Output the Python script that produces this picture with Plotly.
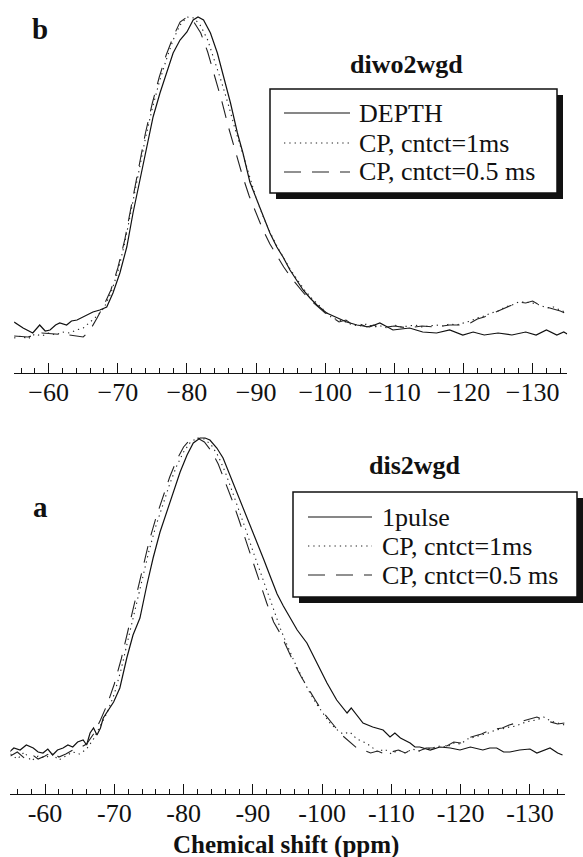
import plotly.graph_objects as go

W, H = 583, 857

# ---------------- data (intensity in arbitrary units) ----------------
# Panel b (diwo2wgd)
b_depth_ppm = [-55.0, -56.3, -57.7, -58.7, -59.5, -60.2, -61.0, -61.6, -62.6, -63.3, -64.1, -65.0, -65.5,
               -66.4, -67.4, -68.4, -69.3, -70.3, -71.3, -72.2, -73.2, -74.2, -75.1, -76.1, -77.1, -78.0,
               -79.0, -80.0, -80.9, -81.6, -82.4, -83.4, -84.4, -85.3, -86.3, -87.3, -88.1, -89.1, -90.1,
               -91.0, -92.0, -93.0, -93.9, -94.9, -95.9, -96.8, -97.8, -98.8, -100.2, -101.7, -103.1,
               -104.6, -106.4, -107.9, -109.8, -112.2, -114.1, -116.1, -118.0, -119.9, -121.4, -123.0,
               -125.0, -127.0, -129.0, -130.5, -132.0, -133.5, -134.5, -135.0]
b_depth_int = [51, 45, 40, 48, 42, 43, 48, 50, 48, 52, 53, 56, 58,
               61, 63, 66, 80, 100, 126, 160, 193, 226, 256, 280, 300, 320,
               333, 341, 353, 356, 353, 340, 320, 296, 270, 240, 220, 191, 173,
               156, 140, 126, 116, 103, 93, 83, 75, 68, 60, 55, 51,
               48, 46, 50, 43, 45, 41, 40, 43, 38, 41, 38,
               40, 38, 41, 38, 43, 38, 41, 39]

b_cp1_ppm = [-55, -56, -57, -58, -59, -60, -61, -62, -63, -64, -65, -66, -67, -68, -69, -70, -71, -72, -73,
             -74, -75, -76, -77, -78, -79, -80, -81, -82, -83, -84, -85, -86, -87, -88, -89, -90, -91, -92,
             -93, -94, -95, -96, -97, -98, -99, -100, -101, -102, -103, -104, -105, -106, -107, -108, -109,
             -110, -111, -112, -113, -114, -115, -116, -117, -118, -119, -120, -121, -122, -123, -124, -125,
             -126, -127, -128, -129, -130, -131, -132, -133, -134, -135]
b_cp1_int = [35, 37, 34, 39, 37, 40, 38, 41, 40, 43, 45, 51, 57, 65, 80, 101, 130, 165, 201,
             235, 265, 291, 313, 333, 348, 356, 355, 347, 333, 313, 291, 268, 243, 221, 197, 175, 157, 141,
             127, 115, 103, 93, 83, 75, 68, 61, 55, 53, 51, 48, 47, 49, 46, 47, 45,
             48, 46, 47, 48, 46, 47, 48, 47, 49, 48, 50, 52, 55, 57, 60, 62,
             66, 68, 71, 71, 70, 68, 65, 66, 63, 60]

b_cp05_ppm = [-55, -57, -59, -61, -63, -65, -66, -67, -68, -69, -70, -71, -72, -73, -74, -75, -76, -77,
              -78, -79, -80, -81, -82, -83, -84, -85, -86, -87, -88, -89, -90, -91, -92, -93, -94, -95,
              -96, -97, -98, -99, -100, -101, -102, -103, -104, -105, -106, -107, -108, -110, -112, -114,
              -116, -118, -120, -121, -122, -123, -124, -125, -126, -127, -128, -129, -130, -131, -132,
              -133, -134, -135]
b_cp05_int = [37, 36, 40, 39, 38, 36, 43, 55, 68, 83, 105, 133, 168, 205, 240, 270, 296, 318,
              336, 351, 356, 351, 340, 321, 298, 273, 246, 221, 198, 177, 159, 143, 129, 117, 106, 96,
              87, 79, 72, 66, 60, 56, 51, 53, 48, 49, 46, 48, 45, 47, 45, 47,
              46, 48, 48, 50, 54, 56, 59, 62, 65, 68, 71, 70, 72, 68, 66,
              64, 62, 59]

# Panel a (dis2wgd)
a_1p_ppm = [-54.7, -55.5, -56.4, -57.3, -58.3, -59.0, -59.7, -60.4, -61.1, -61.8, -62.6, -63.3, -64.0,
            -64.7, -65.5, -66.0, -66.5, -67.0, -67.5, -68.0, -68.4, -69.9, -70.8, -71.8, -72.7, -73.7,
            -74.7, -75.6, -76.6, -77.6, -78.5, -79.5, -80.5, -81.4, -82.4, -83.1, -83.8, -84.8, -85.7,
            -86.7, -87.7, -88.6, -89.6, -90.6, -91.6, -92.6, -93.5, -94.4, -95.4, -96.4, -97.8, -99.2,
            -100.7, -102.1, -103.6, -104.2, -105.0, -105.9, -107.3, -107.9, -108.8, -109.8, -110.5,
            -111.3, -112.7, -113.4, -114.1, -115.6, -117.0, -118.5, -119.9, -121.4, -123.2, -124.2,
            -125.2, -126.2, -127.1, -128.5, -130.0, -131.0, -132.9, -134.0, -134.7]
a_1p_int = [41, 46, 44, 49, 46, 42, 41, 45, 39, 44, 46, 49, 47,
            52, 54, 49, 61, 66, 59, 66, 76, 92, 106, 136, 159, 176,
            209, 236, 262, 282, 302, 322, 339, 351, 356, 356, 354, 346, 336,
            319, 302, 286, 269, 252, 234, 216, 200, 188, 176, 164, 151, 131,
            111, 94, 81, 86, 79, 71, 67, 66, 64, 57, 61,
            56, 51, 47, 47, 44, 47, 46, 44, 47, 44, 46,
            46, 42, 42, 44, 45, 41, 46, 41, 39]

a_cp1_ppm = list(range(-55, -136, -1))
a_cp1_int = [40, 35, 42, 33, 38, 36, 40, 34, 38, 42, 40, 45, 55, 68, 82, 100, 125, 155, 185,
             215, 243, 268, 290, 310, 328, 342, 352, 356, 355, 349, 338, 322, 303, 284, 264, 243, 223,
             203, 183, 165, 148, 132, 118, 104, 92, 82, 72, 65, 60, 62, 55, 52, 48, 42, 45, 40, 44, 41,
             45, 43, 46, 45, 48, 47, 51, 50, 55, 57, 59, 61, 64, 65, 67, 68, 71, 73, 74, 77, 73, 71, 69]

a_cp05_ppm = list(range(-55, -136, -1))
a_cp05_int = [38, 42, 36, 40, 35, 38, 42, 37, 40, 44, 46, 50, 60, 74, 90, 110, 135, 165, 195,
              225, 252, 276, 297, 317, 334, 347, 355, 356, 352, 343, 330, 313, 294, 274, 253, 232, 211,
              191, 172, 160, 145, 130, 117, 105, 94, 83, 74, 66, 58, 52, 46, 44, 41, 43, 40, 42, 44, 41,
              45, 43, 46, 46, 49, 48, 52, 51, 56, 58, 60, 63, 65, 66, 69, 71, 73, 75, 77, 74, 72, 70, 71]

tick_vals = [-60, -70, -80, -90, -100, -110, -120, -130]
tick_text_b = ["\u221260", "\u221270", "\u221280", "\u221290", "\u2212100", "\u2212110", "\u2212120", "\u2212130"]
tick_text_a = ["-60", "-70", "-80", "-90", "-100", "-110", "-120", "-130"]

names_b = ["DEPTH", "CP, cntct=1ms", "CP, cntct=0.5 ms"]
names_a = ["1pulse", "CP, cntct=1ms", "CP, cntct=0.5 ms"]

# ---------------- styling ----------------
SERIF = "'Liberation Serif', 'Times New Roman', 'DejaVu Serif', serif"
DOT = "1.3px,4px"
DASH = "17px,11px"
styles = [dict(color="#111", width=1.2, dash="solid"),
          dict(color="#222", width=1.1, dash=DOT),
          dict(color="#222", width=1.1, dash=DASH)]

def px_x(px):
    return px / W

def px_y(py):
    return 1 - py / H

fig = go.Figure()

series_b = [(b_depth_ppm, b_depth_int), (b_cp1_ppm, b_cp1_int), (b_cp05_ppm, b_cp05_int)]
series_a = [(a_1p_ppm, a_1p_int), (a_cp1_ppm, a_cp1_int), (a_cp05_ppm, a_cp05_int)]

for (x, y), st, nm in zip(series_b, styles, names_b):
    fig.add_trace(go.Scatter(x=x, y=y, mode="lines", line=st, name=nm, xaxis="x", yaxis="y",
                             showlegend=False))
for (x, y), st, nm in zip(series_a, styles, names_a):
    fig.add_trace(go.Scatter(x=x, y=y, mode="lines", line=st, name=nm, xaxis="x2", yaxis="y2",
                             showlegend=False))

minor_vals = list(range(-56, -136, -2))

def xaxis_cfg(dom, ticktext, anchor):
    return dict(domain=dom, range=[-55, -135], anchor=anchor, showline=True, linecolor="#111",
                linewidth=1, showgrid=False, zeroline=False, ticks="inside", ticklen=10,
                tickwidth=1, tickcolor="#111", tickmode="array", tickvals=tick_vals,
                ticktext=ticktext, tickfont=dict(family=SERIF, size=26, color="#111"),
                ticklabelstandoff=-4,
                minor=dict(tickmode="array", tickvals=minor_vals, ticks="inside", ticklen=5,
                           tickwidth=1, tickcolor="#111", showgrid=False))

fig.update_layout(
    width=W, height=H, margin=dict(l=0, r=0, t=0, b=0),
    paper_bgcolor="white", plot_bgcolor="white", showlegend=False,
    font=dict(family=SERIF, color="#111"),
    xaxis=xaxis_cfg([14.1 / W, 567.2 / W], tick_text_b, "y"),
    yaxis=dict(domain=[px_y(373), 1.0], range=[0, 373], visible=False),
    xaxis2=xaxis_cfg([10.4 / W, 564.6 / W], tick_text_a, "y2"),
    yaxis2=dict(domain=[px_y(794), px_y(421)], range=[0, 373], visible=False),
)

shapes = []
annos = []

def legend_box(x0, y0, x1, y1, off):
    shapes.append(dict(type="rect", xref="paper", yref="paper", x0=px_x(x0 + off), x1=px_x(x1 + off),
                       y0=px_y(y1 + off), y1=px_y(y0 + off), fillcolor="#111",
                       line=dict(width=0), layer="above"))
    shapes.append(dict(type="rect", xref="paper", yref="paper", x0=px_x(x0), x1=px_x(x1),
                       y0=px_y(y1), y1=px_y(y0), fillcolor="white",
                       line=dict(color="#111", width=1.5), layer="above"))

def legend_rows(lx0, lx1, tx, ys, names):
    for yy, st, nm in zip(ys, styles, names):
        shapes.append(dict(type="line", xref="paper", yref="paper", x0=px_x(lx0), x1=px_x(lx1),
                           y0=px_y(yy), y1=px_y(yy),
                           line=dict(color=st["color"], width=st["width"], dash=st["dash"]),
                           layer="above"))
        annos.append(dict(text=nm, xref="paper", yref="paper", x=px_x(tx), y=px_y(yy),
                          xanchor="left", yanchor="middle", showarrow=False,
                          font=dict(family=SERIF, size=26, color="#111")))

legend_box(270, 89, 557, 193, 6)
legend_rows(284, 350, 357, [113, 143, 172], names_b)
legend_box(293, 492, 577, 597, 6)
legend_rows(308, 372, 380, [517, 546, 575], names_a)

def label(text, px, py, size=26):
    annos.append(dict(text=text, xref="paper", yref="paper", x=px_x(px), y=px_y(py),
                      xanchor="center", yanchor="middle", showarrow=False,
                      font=dict(family=SERIF, size=size, color="#111")))

label("<b>b</b>", 40, 29, 29)
label("<b>diwo2wgd</b>", 406, 65)
label("<b>a</b>", 40, 507, 29)
label("<b>dis2wgd</b>", 415, 465)
label("<b>Chemical shift (ppm)</b>", 286, 845, 25)

fig.update_layout(shapes=shapes, annotations=annos)
fig.write_html("out.html")
